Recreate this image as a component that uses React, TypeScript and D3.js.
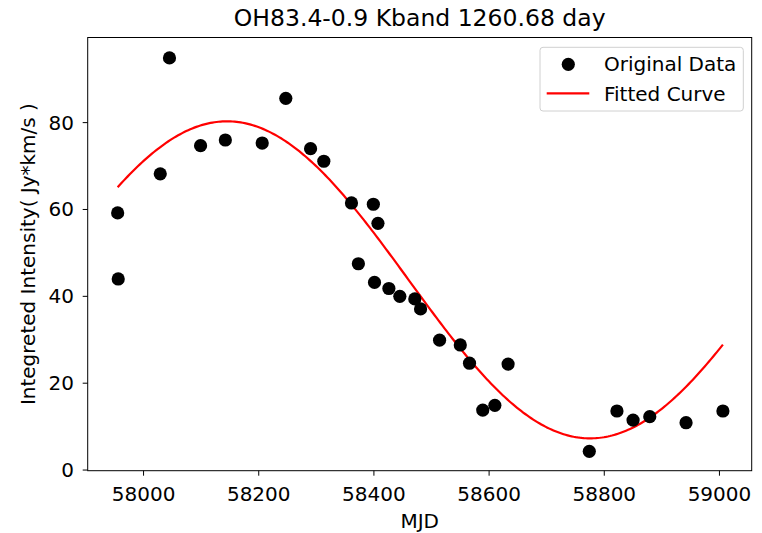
import React from "react";
import * as d3 from "d3";

// Observations: MJD and integrated intensity (Jy*km/s)
const mjd = [
  57955, 57956, 58029, 58045, 58099, 58142, 58206, 58247, 58290, 58313,
  58361, 58399, 58407, 58373, 58401, 58426, 58445, 58471, 58481, 58514,
  58550, 58566, 58633, 58589, 58610, 58774, 58822, 58850, 58879, 58942, 59006,
];
const intensity = [
  59.2, 44.0, 68.2, 94.9, 74.7, 76.0, 75.3, 85.6, 74.0, 71.1,
  61.5, 61.2, 56.8, 47.5, 43.2, 41.8, 40.0, 39.4, 37.1, 29.9,
  28.8, 24.6, 24.4, 13.8, 14.9, 4.3, 13.6, 11.5, 12.3, 10.9, 13.6,
];

// Sinusoidal fit parameters
const fitPeriod = 1260.68;
const fitAmplitude = 36.5;
const fitOffset = 43.8;
const fitPeakMjd = 58145;

const xTicks = [58000, 58200, 58400, 58600, 58800, 59000];
const yTicks = [0, 20, 40, 60, 80];

const W = 762;
const H = 533;
const left = 87.7;
const right = 751.7;
const top = 37.5;
const bottom = 470.7;
const FONT = "DejaVu Sans, sans-serif";
const FS = 20;

export default function App() {
  const x = d3.scaleLinear().domain([57903, 59056]).range([left, right]);
  const y = d3.scaleLinear().domain([-0.15, 99.6]).range([bottom, top]);

  const fit = (t: number) =>
    fitOffset + fitAmplitude * Math.cos((2 * Math.PI * (t - fitPeakMjd)) / fitPeriod);
  const t0 = d3.min(mjd)!;
  const t1 = d3.max(mjd)!;
  const curveT = d3.range(0, 301).map((i) => t0 + ((t1 - t0) * i) / 300);
  const line = d3
    .line<number>()
    .x((t) => x(t))
    .y((t) => y(fit(t)));

  return (
    <div style={{ position: "fixed", left: 0, top: 0 }}>
      <svg width={W} height={H} style={{ display: "block", background: "#fff" }}>
        <text x={(left + right) / 2} y={26} textAnchor="middle" fontFamily={FONT} fontSize={23.5} fill="#000">
          OH83.4-0.9 Kband 1260.68 day
        </text>

        {/* fitted curve */}
        <path d={line(curveT) || ""} fill="none" stroke="#ff0000" strokeWidth={2.2} />

        {/* observations */}
        {mjd.map((t, i) => (
          <circle key={i} cx={x(t)} cy={y(intensity[i])} r={6.6} fill="#000" />
        ))}

        {/* frame */}
        <rect x={left} y={top} width={right - left} height={bottom - top} fill="none" stroke="#000" strokeWidth={1} />

        {/* x axis */}
        {xTicks.map((t) => (
          <g key={t}>
            <line x1={x(t)} x2={x(t)} y1={bottom} y2={bottom + 5} stroke="#000" />
            <text x={x(t)} y={501} textAnchor="middle" fontFamily={FONT} fontSize={FS} fill="#000">
              {t}
            </text>
          </g>
        ))}
        <text x={(left + right) / 2} y={528} textAnchor="middle" fontFamily={FONT} fontSize={FS} fill="#000">
          MJD
        </text>

        {/* y axis */}
        {yTicks.map((v) => (
          <g key={v}>
            <line x1={left - 5} x2={left} y1={y(v)} y2={y(v)} stroke="#000" />
            <text x={74} y={y(v) + 7} textAnchor="end" fontFamily={FONT} fontSize={FS} fill="#000">
              {v}
            </text>
          </g>
        ))}
        <text
          transform={`translate(35, ${(top + bottom) / 2}) rotate(-90)`}
          textAnchor="middle"
          fontFamily={FONT}
          fontSize={FS}
          fill="#000"
        >
          Integreted Intensity( Jy*km/s )
        </text>

        {/* legend */}
        <rect x={540} y={47.3} width={203.3} height={63.7} rx={3} fill="#fff" fillOpacity={0.8} stroke="#d0d0d0" />
        <circle cx={568.3} cy={64.3} r={6.6} fill="#000" />
        <text x={604} y={71.3} fontFamily={FONT} fontSize={FS} fill="#000">
          Original Data
        </text>
        <line x1={546.7} x2={589.3} y1={93.3} y2={93.3} stroke="#ff0000" strokeWidth={2.2} />
        <text x={604} y={100.5} fontFamily={FONT} fontSize={FS} fill="#000">
          Fitted Curve
        </text>
      </svg>
    </div>
  );
}
